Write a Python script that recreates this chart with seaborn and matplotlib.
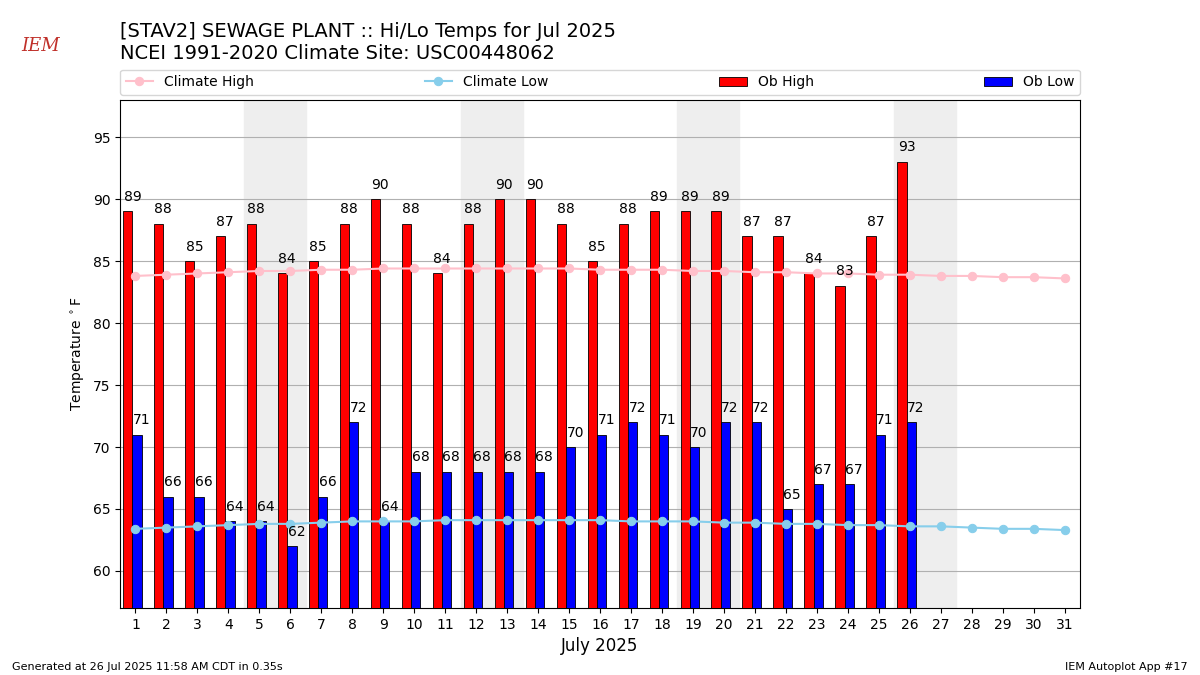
import numpy as np
import pandas as pd
import matplotlib
matplotlib.use("Agg")
import matplotlib.pyplot as plt
import seaborn as sns

# ---- data ----
days = list(range(1, 32))
ob_days = list(range(1, 27))
ob_high = [89, 88, 85, 87, 88, 84, 85, 88, 90, 88, 84, 88, 90, 90, 88, 85, 88, 89, 89, 89,
           87, 87, 84, 83, 87, 93]
ob_low = [71, 66, 66, 64, 64, 62, 66, 72, 64, 68, 68, 68, 68, 68, 70, 71, 72, 71, 70, 72,
          72, 65, 67, 67, 71, 72]
clim_high = [83.8, 83.9, 84.0, 84.1, 84.2, 84.2, 84.3, 84.3, 84.4, 84.4, 84.4, 84.4, 84.4,
             84.4, 84.4, 84.3, 84.3, 84.3, 84.2, 84.2, 84.1, 84.1, 84.0, 84.0, 83.9, 83.9,
             83.8, 83.8, 83.7, 83.7, 83.6]
clim_low = [63.4, 63.5, 63.6, 63.7, 63.8, 63.8, 63.9, 64.0, 64.0, 64.0, 64.1, 64.1, 64.1,
            64.1, 64.1, 64.1, 64.0, 64.0, 64.0, 63.9, 63.9, 63.8, 63.8, 63.7, 63.7, 63.6,
            63.6, 63.5, 63.4, 63.4, 63.3]
weekend_starts = [5, 12, 19, 26]

clim_df = pd.DataFrame({"day": days, "high": clim_high, "low": clim_low})

# ---- figure ----
fig = plt.figure(figsize=(12, 6.75), dpi=100)
ax = fig.add_axes([0.1, 0.099, 0.8, 0.753])

for d in weekend_starts:
    ax.axvspan(d - 0.5, d + 1.5, color="#eeeeee", zorder=0)

x = np.array(ob_days)
ax.bar(x - 0.25, ob_high, width=0.3, color="red", edgecolor="black", lw=0.6,
       label="Ob High", zorder=3)
ax.bar(x + 0.05, ob_low, width=0.3, color="blue", edgecolor="black", lw=0.6,
       label="Ob Low", zorder=3)
for xi, v in zip(x, ob_high):
    ax.text(xi - 0.1, v + 0.6, f"{v}", ha="center", va="bottom", fontsize=10, zorder=5)
for xi, v in zip(x, ob_low):
    ax.text(xi + 0.2, v + 0.6, f"{v}", ha="center", va="bottom", fontsize=10, zorder=5)

sns.lineplot(data=clim_df, x="day", y="high", color="pink", marker="o", markersize=6,
             markeredgecolor="pink", lw=1.5, label="Climate High", ax=ax, zorder=4)
sns.lineplot(data=clim_df, x="day", y="low", color="skyblue", marker="o", markersize=6,
             markeredgecolor="skyblue", lw=1.5, label="Climate Low", ax=ax, zorder=4)

ax.set_xlim(0.5, 31.5)
ax.set_ylim(57, 98)
ax.set_xticks(days)
ax.set_yticks(range(60, 96, 5))
ax.yaxis.grid(True, color="#b0b0b0", lw=0.8)
ax.set_axisbelow(True)
ax.set_xlabel("July 2025", fontsize=12)
ax.set_ylabel("Temperature $^\\circ$F")

h, l = ax.get_legend_handles_labels()
order = [l.index(n) for n in ["Climate High", "Climate Low", "Ob High", "Ob Low"]]
ax.legend([h[i] for i in order], [l[i] for i in order], ncol=4, mode="expand",
          loc="lower left", bbox_to_anchor=(0, 1.01, 1, 0.05), borderaxespad=0)

fig.text(0.1, 0.945, "[STAV2] SEWAGE PLANT :: Hi/Lo Temps for Jul 2025", fontsize=14)
fig.text(0.1, 0.912, "NCEI 1991-2020 Climate Site: USC00448062", fontsize=14)
fig.text(0.01, 0.008, "Generated at 26 Jul 2025 11:58 AM CDT in 0.35s", fontsize=8)
fig.text(0.99, 0.008, "IEM Autoplot App #17", fontsize=8, ha="right")
fig.text(0.018, 0.925, "IEM", fontsize=13, color="#c0302a", family="DejaVu Serif",
         style="italic")

fig.savefig("out.png", dpi=100)
